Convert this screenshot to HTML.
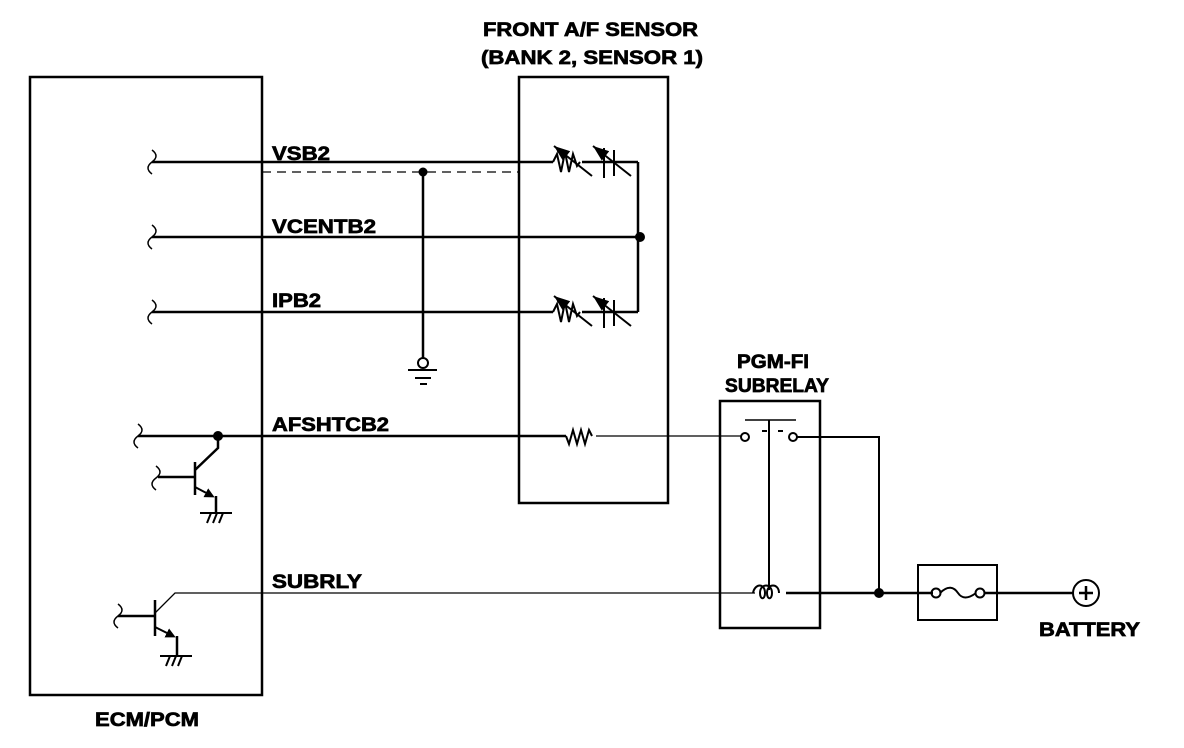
<!DOCTYPE html>
<html><head><meta charset="utf-8"><style>
html,body{margin:0;padding:0;background:#fff;}
svg{display:block;}
text{font-family:"Liberation Sans",Arial,sans-serif;font-weight:bold;font-size:19px;fill:#000;stroke:#000;stroke-width:0.7;}
</style></head><body>
<svg width="1184" height="748" viewBox="0 0 1184 748" xmlns="http://www.w3.org/2000/svg">
<defs>
<marker id="ah" markerWidth="10" markerHeight="10" refX="7" refY="5" orient="auto" markerUnits="userSpaceOnUse"><path d="M0,0 L10,5 L0,10z" fill="#000"/></marker>
<marker id="ah2" markerWidth="16" markerHeight="12" refX="16" refY="6" orient="auto" markerUnits="userSpaceOnUse"><path d="M0,0 L16,6 L0,12z" fill="#000"/></marker>
</defs>
<g stroke="#000" fill="none" stroke-width="2.5">
<rect x="30" y="77" width="232" height="618"/>
<rect x="519" y="77" width="149" height="426"/>
<rect x="720" y="401" width="100" height="227"/>
<rect x="918" y="565" width="79" height="55" stroke-width="2"/>
<circle cx="1086" cy="593" r="13" stroke-width="2"/>
<path d="M1079,593 H1093 M1086,586 V600"/>
<path d="M152,150 q8,6 0,12 q-8,6 0,12" stroke-width="1.5"/>
<path d="M152,225 q8,6 0,12 q-8,6 0,12" stroke-width="1.5"/>
<path d="M152,300 q8,6 0,12 q-8,6 0,12" stroke-width="1.5"/>
<path d="M138,424 q8,6 0,12 q-8,6 0,12" stroke-width="1.5"/>
<path d="M156,466 q8,6 0,12 q-8,6 0,12" stroke-width="1.5"/>
<path d="M118,604 q8,6 0,12 q-8,6 0,12" stroke-width="1.5"/>
<path d="M152,162 H553"/>
<path d="M262,172 H518" stroke-dasharray="9,6" stroke-width="1.2"/>
<path d="M152,237 H640"/>
<path d="M152,312 H553"/>
<path d="M423,172 V358"/>
<circle cx="423" cy="363" r="5" stroke-width="2"/>
<path d="M408,370 H437 M415,378 H431 M420,384 H427" stroke-width="2"/>
<path d="M638,162 V312"/>
<path d="M582,162 H638 M582,312 H638"/>
<path d="M553,162 l4,-8 l4,18 l4,-20 l4,20 l4,-18 l4,12 l3,-4" stroke-width="2"/>
<path d="M553,312 l4,-8 l4,18 l4,-20 l4,20 l4,-18 l4,12 l3,-4" stroke-width="2"/>
<path d="M604,148 V178 M614,150 V176" stroke-width="2"/>
<path d="M604,298 V328 M614,300 V326" stroke-width="2"/>
<path d="M592,176 L554,146" stroke-width="2" marker-end="url(#ah2)"/>
<path d="M631,176 L593,146" stroke-width="2" marker-end="url(#ah2)"/>
<path d="M592,326 L554,296" stroke-width="2" marker-end="url(#ah2)"/>
<path d="M631,326 L593,296" stroke-width="2" marker-end="url(#ah2)"/>
<path d="M138,436 H566"/>
<path d="M566,436 l3,8 l4,-14 l4,14 l4,-14 l4,14 l4,-14 l3,6" stroke-width="2"/>
<path d="M596,436 H741" stroke-width="1.3"/>
<circle cx="745" cy="437" r="4" stroke-width="2"/>
<circle cx="793" cy="437" r="4" stroke-width="2"/>
<path d="M797,437 H879 V593" stroke-width="2"/>
<path d="M745,420 H796" stroke-width="1.5"/>
<path d="M762,431 H767 M778,431 H783" stroke-width="2"/>
<path d="M769,420 V590" stroke-width="2"/>
<path d="M218,436 V448 L195,470"/>
<path d="M158,477 H195 M195,462 V495"/>
<path d="M195,487 L212,496" stroke-width="2" marker-end="url(#ah)"/>
<path d="M216,496 V513"/>
<path d="M200,513 H232 M207,523 l4,-10 M213,523 l4,-10 M219,523 l4,-10" stroke-width="2"/>
<path d="M755,593 H175 L155,613" stroke-width="1.3"/>
<path d="M118,616 H155 M155,600 V636"/>
<path d="M155,627 L173,636" stroke-width="2" marker-end="url(#ah)"/>
<path d="M177,636 V656"/>
<path d="M160,656 H192 M166,666 l4,-10 M172,666 l4,-10 M178,666 l4,-10" stroke-width="2"/>
<path d="M753,593 c2,-10 12,-10 12,0 c0,7 -5,7 -5,0 c0,-10 12,-10 12,0 c0,7 -5,7 -5,0 c0,-10 12,-10 12,0" stroke-width="2"/>
<path d="M786,593 H933"/>
<circle cx="936" cy="593" r="4.5" stroke-width="2"/>
<circle cx="980" cy="593" r="4.5" stroke-width="2"/>
<path d="M940,593 c8,-8 14,-6 18,0 c4,6 10,6 18,0" stroke-width="2"/>
<path d="M985,593 H1073"/>
</g>
<g fill="#000">
<circle cx="423" cy="172" r="4.5"/>
<circle cx="640" cy="237" r="5"/>
<circle cx="218" cy="436" r="5"/>
<circle cx="879" cy="593" r="5"/>
</g>
<text x="483" y="36" textLength="215" lengthAdjust="spacingAndGlyphs">FRONT A/F SENSOR</text>
<text x="481" y="64" textLength="222" lengthAdjust="spacingAndGlyphs">(BANK 2, SENSOR 1)</text>
<text x="272" y="160" textLength="58" lengthAdjust="spacingAndGlyphs">VSB2</text>
<text x="272" y="233" textLength="104" lengthAdjust="spacingAndGlyphs">VCENTB2</text>
<text x="272" y="307" textLength="49" lengthAdjust="spacingAndGlyphs">IPB2</text>
<text x="272" y="431" textLength="117" lengthAdjust="spacingAndGlyphs">AFSHTCB2</text>
<text x="272" y="588" textLength="90" lengthAdjust="spacingAndGlyphs">SUBRLY</text>
<text x="737" y="368" textLength="72" lengthAdjust="spacingAndGlyphs">PGM-FI</text>
<text x="725" y="392" textLength="104" lengthAdjust="spacingAndGlyphs">SUBRELAY</text>
<text x="1039" y="636" textLength="101" lengthAdjust="spacingAndGlyphs">BATTERY</text>
<text x="95" y="726" textLength="104" lengthAdjust="spacingAndGlyphs">ECM/PCM</text>
</svg>
</body></html>
